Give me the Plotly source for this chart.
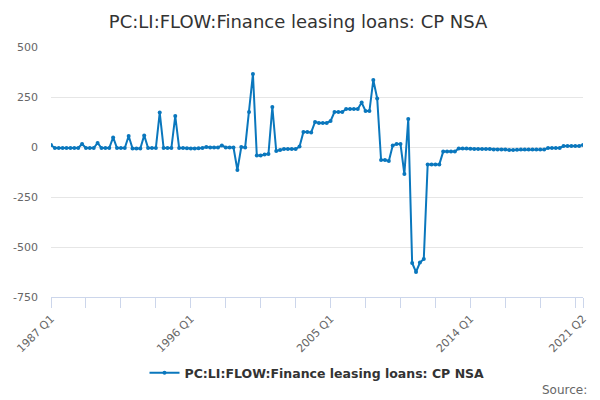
import plotly.graph_objects as go

# quarterly categories 1987 Q1 .. 2021 Q2
quarters = []
for yr in range(1987, 2022):
    for q in range(1, 5):
        quarters.append(str(yr) + ' Q' + str(q))
        if yr == 2021 and q == 2:
            break

# values (GBP m)
values = [
    10, -5, -5, -5, -5, -5, -5, -5,
    15, -5, -5, -5,
    20, -5, -5, -5,
    48, -5, -5, -5,
    55, -8, -8, -8,
    58, -5, -5, -5,
    172, -5, -5, -5,
    155, -5, -5, -6, -8, -8, -6, -5,
    0, -3, -3, -3,
    8, -2, -2, -3,
    -115, 0, -2, 175, 365,
    -43, -43, -38, -35, 200,
    -20, -15, -10, -10, -10, -10,
    2, 75, 75, 73,
    125, 120, 120, 120,
    130, 175, 175, 175,
    190, 190, 190, 190,
    222, 180, 180, 335, 243,
    -65, -65, -70, 8, 15, 15, -135, 140,
    -580, -625, -578, -560,
    -87, -87, -87, -87,
    -23, -23, -23, -23,
    -7, -8, -8, -9, -10, -10, -10, -10,
    -10, -12, -12, -13, -13, -15, -15, -14,
    -13, -12, -12, -12, -12, -12, -12,
    -5, -5, -5, -5,
    5, 5, 5, 5, 5, 10,
]
assert len(values) == len(quarters)

y_ticks = [500, 250, 0, -250, -500, -750]
labelled = ['1987 Q1', '1996 Q1', '2005 Q1', '2014 Q1', '2021 Q2']

# tick every 9 quarters, plus the last one
tick_pos = quarters[::9] + [quarters[-1]]
tick_txt = [t if t in labelled else '' for t in tick_pos]

series_name = 'PC:LI:FLOW:Finance leasing loans: CP NSA'
blue = '#0a77bd'

# page body has an 8px margin, so the figure is 592x392
W, H = 592, 392

fig = go.Figure()
fig.add_trace(go.Scatter(
    x=quarters, y=values, name='<b>' + series_name + '</b>',
    mode='lines+markers',
    line=dict(color=blue, width=2),
    marker=dict(color=blue, size=4),
))

fig.update_layout(
    width=W, height=H,
    paper_bgcolor='white', plot_bgcolor='white',
    font=dict(family='DejaVu Sans', color='#666666'),
    title=dict(text=series_name, x=0.49, xanchor='center', y=1 - 14 / H, yanchor='middle',
               font=dict(size=18, color='#333333')),
    margin=dict(l=43, r=17, t=39, b=103, autoexpand=False),
    showlegend=True,
    legend=dict(orientation='h', x=0.5, xanchor='center', y=-0.304, yanchor='middle',
                itemwidth=30, font=dict(size=12.5, color='#333333')),
    annotations=[dict(text='Source:', xref='paper', yref='paper', x=1.011, y=-0.372,
                      xanchor='right', yanchor='middle', showarrow=False,
                      font=dict(size=12, color='#666666'))],
)

fig.update_xaxes(
    type='category', range=[0, len(quarters) - 1],
    tickmode='array', tickvals=tick_pos, ticktext=tick_txt,
    tickangle=-45, tickfont=dict(size=11, color='#666666'),
    ticks='outside', ticklen=10, tickcolor='#ccd6eb',
    showline=True, linecolor='#ccd6eb', linewidth=1,
    showgrid=False, zeroline=False, automargin=False,
)
fig.update_yaxes(
    range=[-750, 500],
    tickmode='array', tickvals=y_ticks, ticktext=[str(v) for v in y_ticks],
    tickfont=dict(size=11, color='#666666'), ticklabelstandoff=12,
    showgrid=True, gridcolor='#e6e6e6', zeroline=False, showline=False,
    automargin=False,
)

fig.write_html('out.html')
